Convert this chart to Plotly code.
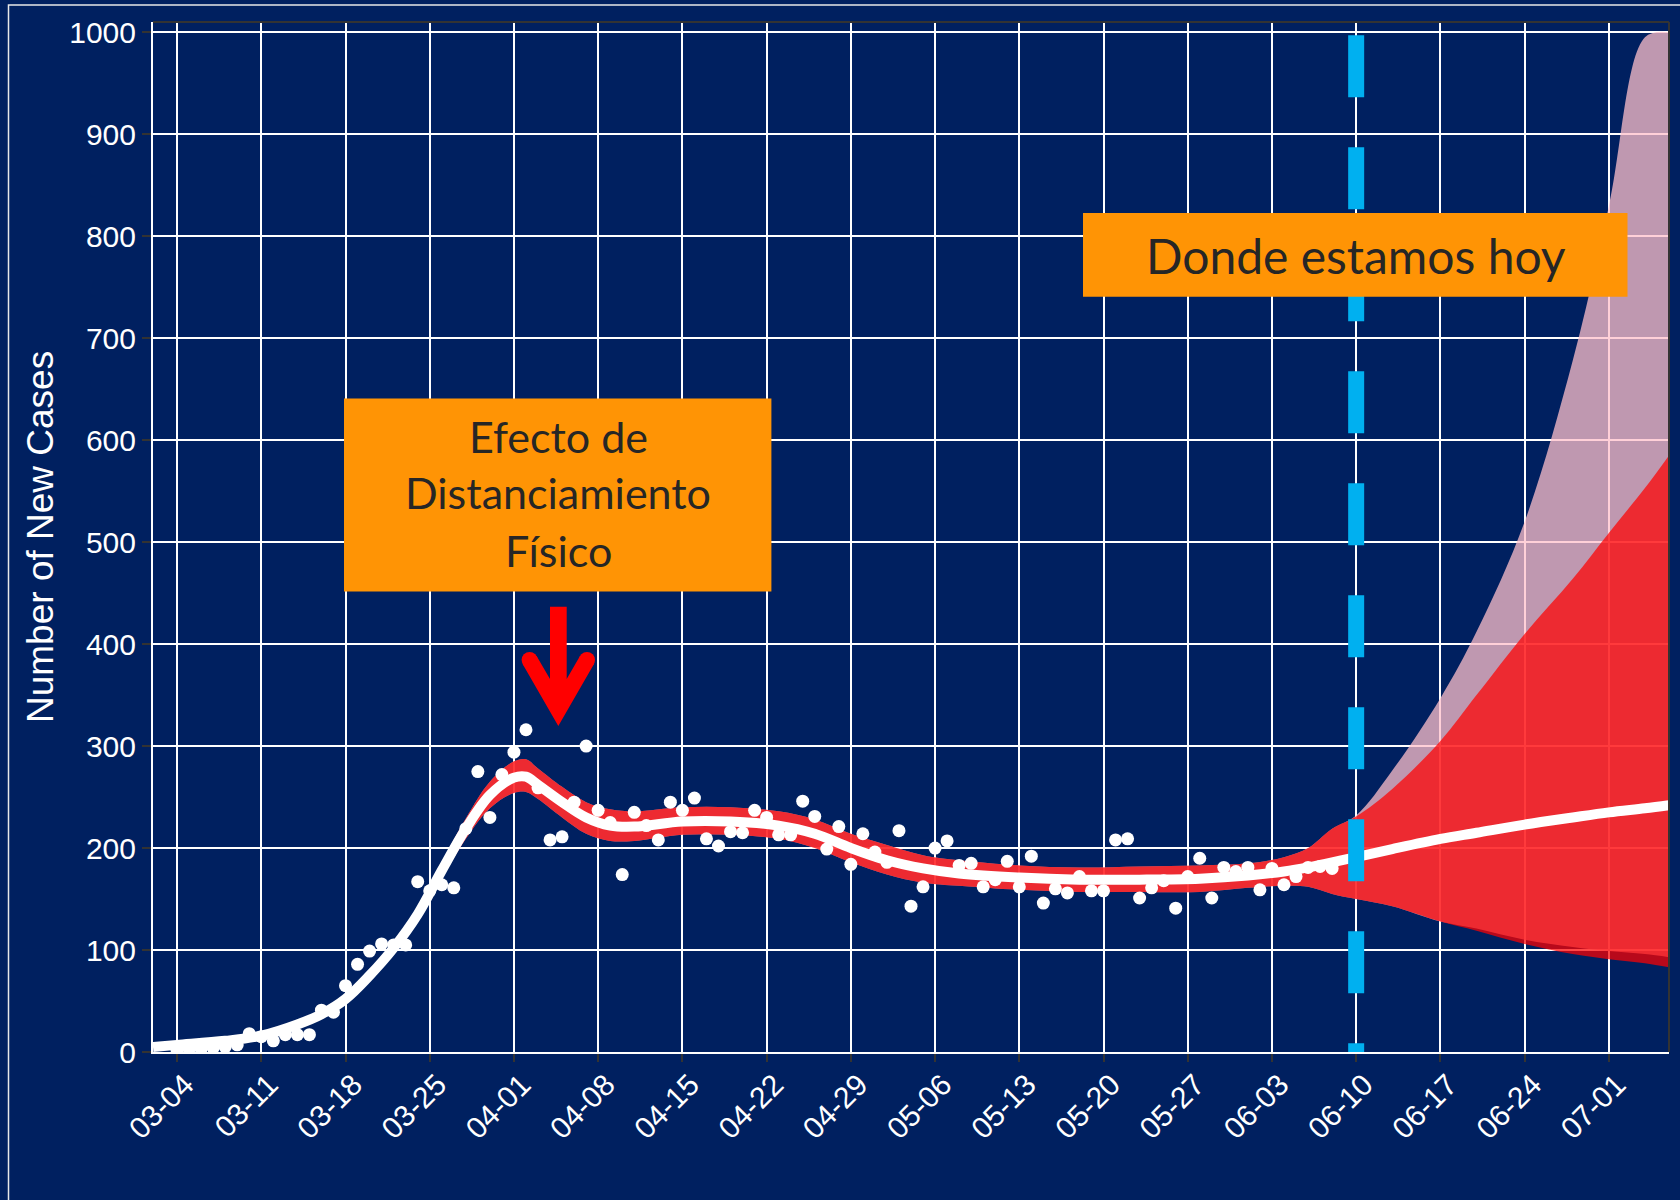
import plotly.graph_objects as go
import pandas as pd

# ---------------- data ----------------
tick_dates = ["2020-03-04", "2020-03-11", "2020-03-18", "2020-03-25", "2020-04-01",
              "2020-04-08", "2020-04-15", "2020-04-22", "2020-04-29", "2020-05-06",
              "2020-05-13", "2020-05-20", "2020-05-27", "2020-06-03", "2020-06-10",
              "2020-06-17", "2020-06-24", "2020-07-01"]
tick_labels = ["03-04", "03-11", "03-18", "03-25", "04-01", "04-08", "04-15", "04-22",
               "04-29", "05-06", "05-13", "05-20", "05-27", "06-03", "06-10", "06-17",
               "06-24", "07-01"]

case_start = "2020-03-04"
new_cases = [2, 3, 3, 4, 5, 7, 18, 15, 11, 17, 17, 17, 41, 39, 65, 86, 99, 106, 105, 105,
             167, 158, 164, 161, 219, 275, 230, 272, 294, 316, 259, 208, 211, 245, 300, 237,
             225, 174, 235, 222, 208, 245, 237, 249, 209, 202, 216, 215, 237, 230, 213, 213,
             246, 231, 199, 221, 184, 214, 196, 186, 217, 143, 162, 200, 207, 183, 185, 162,
             169, 187, 162, 192, 146, 160, 156, 172, 158, 158, 208, 209, 151, 161, 168, 141,
             172, 190, 151, 181, 177, 181, 159, 180, 164, 172, 181, 182, 180]

fit_dates = ["2020-03-02", "2020-03-04", "2020-03-08", "2020-03-11", "2020-03-14",
             "2020-03-16", "2020-03-18", "2020-03-20", "2020-03-22", "2020-03-24",
             "2020-03-26", "2020-03-28", "2020-03-30", "2020-04-01", "2020-04-02",
             "2020-04-03", "2020-04-05", "2020-04-07", "2020-04-09", "2020-04-11",
             "2020-04-15", "2020-04-19", "2020-04-23", "2020-04-26", "2020-04-29",
             "2020-05-02", "2020-05-05", "2020-05-08", "2020-05-13", "2020-05-18",
             "2020-05-23", "2020-05-28", "2020-06-01", "2020-06-04", "2020-06-06",
             "2020-06-08", "2020-06-10", "2020-06-13", "2020-06-17", "2020-06-20",
             "2020-06-24", "2020-06-28", "2020-07-01", "2020-07-04", "2020-07-06"]
fit_values = [5, 7, 11, 16, 27, 37, 52, 75, 102, 135, 178, 219, 252, 269, 270, 262, 245,
              230, 222, 221, 226, 226, 222, 214, 200, 188, 180, 175, 171, 169, 169, 170,
              173, 177, 181, 186, 191, 199, 209, 215, 223, 230, 235, 239, 242]
inner_lo = [4, 6, 10, 15, 25, 35, 49, 71, 97, 129, 170, 209, 239, 254, 255, 248, 230,
            214, 207, 207, 213, 213, 209, 200, 186, 174, 166, 163, 159, 157, 157, 157,
            161, 163, 162, 155, 150, 143, 128, 119, 106, 96, 91, 87, 83]
inner_hi = [6, 8, 12, 17, 29, 39, 55, 79, 107, 141, 186, 229, 265, 285, 287, 278, 260,
            245, 238, 236, 240, 240, 236, 228, 214, 203, 193, 188, 183, 181, 182, 183,
            185, 191, 200, 219, 231, 258, 305, 350, 410, 464, 509, 553, 585]
outer_lo = [4, 6, 10, 15, 25, 35, 49, 71, 97, 129, 170, 209, 239, 254, 255, 248, 230,
            214, 207, 207, 213, 213, 209, 200, 186, 174, 166, 163, 159, 157, 157, 157,
            161, 163, 162, 155, 150, 143, 128, 121, 110, 103, 99, 96, 93]
outer_hi = [6, 8, 12, 17, 29, 39, 55, 79, 107, 141, 186, 229, 265, 285, 287, 278, 260,
            245, 238, 236, 240, 240, 236, 228, 214, 203, 193, 188, 183, 181, 182, 183,
            185, 191, 200, 219, 232, 276, 347, 412, 520, 678, 829, 995, 1000]

today_date = "2020-06-10"
label_today = "Donde estamos hoy"
label_effect_lines = ["Efecto de", "Distanciamiento", "Físico"]
y_title = "Number of New Cases"

# ---------------- styling ----------------
NAVY = "#002060"
ORANGE = "#FF9405"
W, H = 1680, 1200
ML, MR, MT, MB = 153, 11, 22, 148
PW, PH = W - ML - MR, H - MT - MB


def px(x):
    return (x - ML) / PW


def py(y):
    return (H - MB - y) / PH


case_dates = pd.date_range(case_start, periods=len(new_cases), freq="D")

fig = go.Figure()

# outer (pink) band
fig.add_trace(go.Scatter(x=fit_dates, y=outer_lo, mode="lines", line=dict(width=0, shape="spline"),
                         hoverinfo="skip", showlegend=False))
fig.add_trace(go.Scatter(x=fit_dates, y=outer_hi, mode="lines", line=dict(width=0, shape="spline"),
                         fill="tonexty", fillcolor="rgba(255,192,203,0.75)",
                         hoverinfo="skip", showlegend=False))
# inner (red) band
fig.add_trace(go.Scatter(x=fit_dates, y=inner_lo, mode="lines", line=dict(width=0, shape="spline"),
                         hoverinfo="skip", showlegend=False))
fig.add_trace(go.Scatter(x=fit_dates, y=inner_hi, mode="lines", line=dict(width=0, shape="spline"),
                         fill="tonexty", fillcolor="rgba(255,0,0,0.72)",
                         hoverinfo="skip", showlegend=False))
# fitted line
fig.add_trace(go.Scatter(x=fit_dates, y=fit_values, mode="lines",
                         line=dict(color="white", width=10, shape="spline"),
                         showlegend=False))
# observed points
fig.add_trace(go.Scatter(x=case_dates, y=new_cases, mode="markers",
                         marker=dict(color="white", size=13, line=dict(width=0)),
                         showlegend=False))

shapes = []
# today dashed line
shapes.append(dict(type="line", xref="x", yref="y", x0=today_date, x1=today_date, y0=997, y1=0,
                   line=dict(color="#00B0F0", width=16, dash="62px,50px"), layer="above"))
# panel top/right border
shapes.append(dict(type="line", xref="paper", yref="paper", x0=0, x1=1, y0=1, y1=1,
                   line=dict(color="#333333", width=2), layer="above"))
shapes.append(dict(type="line", xref="paper", yref="paper", x0=1, x1=1, y0=0, y1=1,
                   line=dict(color="#333333", width=2), layer="above"))
# orange boxes
shapes.append(dict(type="rect", xref="paper", yref="paper",
                   x0=px(1083), x1=px(1627.5), y0=py(296.8), y1=py(213),
                   fillcolor=ORANGE, line=dict(width=0), layer="above"))
shapes.append(dict(type="rect", xref="paper", yref="paper",
                   x0=px(344), x1=px(771.4), y0=py(591.4), y1=py(398.6),
                   fillcolor=ORANGE, line=dict(width=0), layer="above"))
# red arrow
arrow_pts = [(550, 606.7), (566.7, 606.7), (566.7, 679), (580, 656), (594, 664), (558.3, 726),
             (522.6, 664), (536.6, 656), (550, 679)]
path = "M " + " L ".join(f"{px(a):.5f},{py(b):.5f}" for a, b in arrow_pts) + " Z"
shapes.append(dict(type="path", xref="paper", yref="paper", path=path,
                   fillcolor="#FF0000", line=dict(width=0), layer="above"))
for cx in (587, 529.6):
    shapes.append(dict(type="circle", xref="paper", yref="paper",
                       x0=px(cx - 8), x1=px(cx + 8), y0=py(660 + 8), y1=py(660 - 8),
                       fillcolor="#FF0000", line=dict(width=0), layer="above"))
# outer frame
shapes.append(dict(type="rect", xref="paper", yref="paper",
                   x0=px(8.5), x1=px(1700), y0=py(1220), y1=py(5),
                   line=dict(color="#E8E8E8", width=1.5), fillcolor="rgba(0,0,0,0)", layer="above"))

annotations = [
    dict(text=label_today, xref="paper", yref="paper", x=px(1356), y=py(256), xanchor="center",
         yanchor="middle", showarrow=False, font=dict(family="Lato", size=48, color="#262626")),
    dict(text=y_title, xref="paper", yref="paper", x=px(40), y=py(537), xanchor="center",
         yanchor="middle", textangle=-90, showarrow=False,
         font=dict(family="Liberation Sans, Arial", size=37, color="white")),
]
for line_text, cy in zip(label_effect_lines, (436, 493, 550)):
    annotations.append(dict(text=line_text, xref="paper", yref="paper", x=px(558), y=py(cy),
                            xanchor="center", yanchor="middle", showarrow=False,
                            font=dict(family="Lato", size=43, color="#262626")))

fig.update_layout(
    width=W, height=H,
    margin=dict(l=ML, r=MR, t=MT, b=MB, pad=0),
    paper_bgcolor=NAVY, plot_bgcolor=NAVY,
    font=dict(family="Liberation Sans, Arial", color="white", size=30),
    shapes=shapes, annotations=annotations, showlegend=False,
    xaxis=dict(type="date", range=["2020-03-02", "2020-07-06"], tickvals=tick_dates,
               ticktext=tick_labels, tickangle=-45, ticks="outside", ticklen=8, tickwidth=2,
               tickcolor="#333333", showgrid=True, gridcolor="white", gridwidth=2,
               showline=True, linecolor="white", linewidth=2, zeroline=False,
               tickfont=dict(size=30, color="white"), ticklabelshift=8, ticklabelstandoff=-7,
               automargin=False),
    yaxis=dict(range=[0, 1010], tickvals=list(range(0, 1001, 100)), ticks="outside",
               ticklen=9, tickwidth=2, tickcolor="#333333", showgrid=True, gridcolor="white",
               gridwidth=2, showline=True, linecolor="white", linewidth=2, zeroline=False,
               tickfont=dict(size=30, color="white"), automargin=False),
)

fig.write_html("out.html", config={"displayModeBar": False},
               post_script="document.body.style.margin='0px';"
                           "document.body.style.background='" + NAVY + "';")
